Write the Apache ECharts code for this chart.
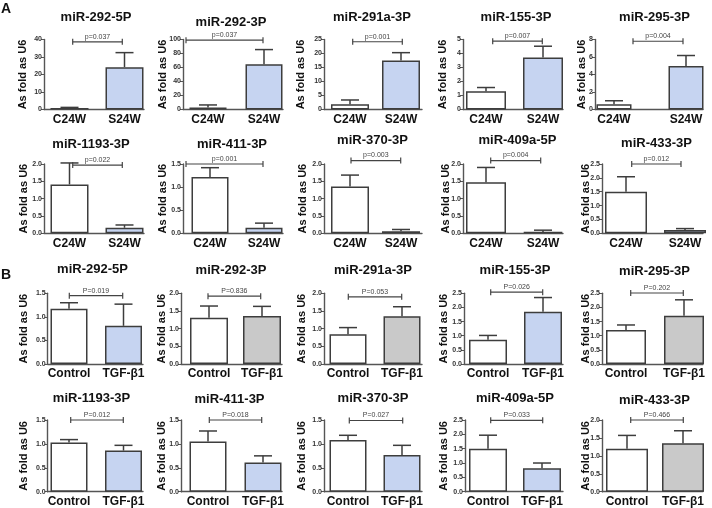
<!DOCTYPE html>
<html><head><meta charset="utf-8">
<script src="https://cdn.jsdelivr.net/npm/echarts@6/dist/echarts.min.js"></script>
<style>html,body{margin:0;padding:0;background:#fff}#c{width:712px;height:508px}</style>
</head><body><div id="c"></div>
<script>
// ---------------- DATA ----------------
const mirNames = ['miR-292-5P','miR-292-3P','miR-291a-3P','miR-155-3P','miR-295-3P',
                  'miR-1193-3P','miR-411-3P','miR-370-3P','miR-409a-5P','miR-433-3P'];
const groupsA = ['C24W','S24W'];
const groupsB = ['Control','TGF-\u03b21'];
const meanA = [[0.9,24.2],[3,64.6],[1.9,17.5],[1.3,3.72],[0.6,4.97],
               [1.41,0.16],[1.22,0.12],[1.35,0.06],[1.47,0.04],[1.5,0.12]];
const errA  = [[0.3,8.3],[3.5,21],[1.5,2.8],[0.27,0.8],[0.4,1.2],
               [0.62,0.08],[0.2,0.1],[0.33,0.05],[0.43,0.05],[0.54,0.05]];
const meanB = [[1.17,0.81],[1.31,1.36],[0.84,1.35],[0.86,1.85],[1.2,1.71],
               [1.03,0.86],[1.05,0.61],[1.08,0.77],[1.5,0.82],[1.2,1.35]];
const errB  = [[0.13,0.46],[0.33,0.27],[0.19,0.27],[0.15,0.5],[0.18,0.56],
               [0.06,0.11],[0.22,0.14],[0.1,0.2],[0.47,0.18],[0.37,0.35]];
const pA = ['p=0.037','p=0.037','p=0.001','p=0.007','p=0.004','p=0.022','p=0.001','p=0.003','p=0.004','p=0.012'];
const pB = ['P=0.019','P=0.836','P=0.053','P=0.026','P=0.202','P=0.012','P=0.018','P=0.027','P=0.033','P=0.466'];
const yMaxA = [40,100,25,5,8,2,1.5,2,2,2.5];
const yStepA = [10,20,5,1,2,0.5,0.5,0.5,0.5,0.5];
const yMaxB = [1.5,2,2,2.5,2.5,1.5,1.5,1.5,2.5,2];
const yStepB = [0.5,0.5,0.5,0.5,0.5,0.5,0.5,0.5,0.5,0.5];
const yAxisName = 'As fold as U6';

// ---------------- LAYOUT ----------------
// bracket heights (in axis units)
const bracketA = [38.7,99,24.2,4.88,7.8,1.97,1.5,2.1,2.1,2.5];
const bracketB = [1.45,1.92,1.9,2.54,2.51,1.5,1.5,1.49,2.49,2.0];
// per panel: [axisX, xEnd, center1, center2, barWidth, bracket1, bracket2, nameCenterX]
const panelX = [
  [44,144,69.5,124.5,38,72.7,122.3,22],[183,283,208,264,37,186,263,162.5],
  [324,422,350,401,38,352.7,402.3,300],[463,563,486,543,40,492.7,542.3,442],
  [595,703,614,686,35,633,683,581],
  [44,144,69.5,124.5,38,72.7,122.3,23],[183,283,210,264,37,186,263,162],
  [324,422,350,401,38,351,400.7,302],[463,563,486,543,40,490.7,540.7,445],
  [602,703,626,685,42,631.7,681,585.5],
  [47.7,143,69,123.5,37,69.3,122.7,23],[181,282,209,262,38,208,260.7,161],
  [324,422,348,402,37,348.3,401.7,301],[464,563,488,543,38,490.7,542.7,443],
  [602,703,626,684,40,630.7,683.3,585.5],
  [47.7,143,69,123.5,37,70.7,123.3,23],[181,282,208,263,37,209.3,261.7,161],
  [324,422,348,402,37,349.3,402.7,301],[465,563,488,542,38,490.7,542.7,443],
  [602,703,627,683,42,630.7,683.3,585.5]
];
// rows: [topTickY, zeroY]
const rowsY = [[39.5,109.5],[164,233.3],[293.3,364],[420,491.7]];
const titleX = [96,231,372,516,654.5, 91,232,372.5,517.5,656.5, 92.5,231,373,515,654.5, 91.5,229.5,373,515,654.5];
const titleY = [17,22,17,17,17, 144,144,140,140,143, 269,270,270,270,271, 398,399,398,398,400];

const FONT = '"Liberation Sans", Arial, sans-serif';
const BLUE = '#c6d4f1', GRAY = '#c9c9c9', EDGE = '#3d3d3d', AXIS = '#555';

const chart = echarts.init(document.getElementById('c'));
const grid = [], xAxis = [], yAxis = [], series = [], graphic = [];

for (let i = 0; i < 20; i++) {
  const isA = i < 10, k = i % 10, row = Math.floor(i / 5);
  const [ax, xe, c1, c2, bw, b1, b2, nx] = panelX[i];
  const [topY, zeroY] = rowsY[row];
  const mean = (isA ? meanA : meanB)[k], err = (isA ? errA : errB)[k];
  const pl = (isA ? pA : pB)[k];
  const sig = parseFloat(pl.split('=')[1]) < 0.05;
  const groups = isA ? groupsA : groupsB;
  const ymax = (isA ? yMaxA : yMaxB)[k], ystep = (isA ? yStepA : yStepB)[k];
  const bLevel = (isA ? bracketA : bracketB)[k];
  const x1 = c1 - ax, x2 = c2 - ax;

  grid.push({left: ax, top: topY, width: xe - ax, height: zeroY - topY, containLabel: false});
  xAxis.push({
    gridIndex: i, type: 'value', min: 0, max: xe - ax,
    axisLine: {show: true, onZero: false, lineStyle: {color: AXIS, width: 1.4}},
    axisTick: {show: false}, splitLine: {show: false},
    axisLabel: {customValues: [x1, x2], formatter: v => (Math.abs(v - x1) < 0.5 ? groups[0] : groups[1]),
      fontSize: 12, fontWeight: 'bold', color: '#111', margin: 4, fontFamily: FONT}
  });
  yAxis.push({
    gridIndex: i, type: 'value', min: 0, max: ymax, interval: ystep,
    axisLine: {show: true, lineStyle: {color: AXIS, width: 1.4}},
    axisTick: {show: true, length: 3, lineStyle: {color: AXIS, width: 1}},
    splitLine: {show: false},
    axisLabel: {fontSize: 7, color: '#333', margin: 2, fontFamily: FONT, fontWeight: 'bold',
      formatter: v => (ystep < 1 ? v.toFixed(1) : String(v))},
    name: yAxisName, nameLocation: 'middle', nameRotate: 90, nameGap: ax - nx - 6,
    nameMoveOverlap: false,
    nameTextStyle: {fontSize: 11, fontWeight: 'bold', color: '#111', fontFamily: FONT}
  });
  series.push({
    type: 'bar', xAxisIndex: i, yAxisIndex: i, barWidth: bw, z: 2,
    itemStyle: {borderColor: EDGE, borderWidth: 1.5},
    data: [
      {value: [x1, mean[0]], itemStyle: {color: '#fff'}},
      {value: [x2, mean[1]], itemStyle: {color: sig ? BLUE : GRAY}}
    ]
  });
  series.push({
    type: 'custom', xAxisIndex: i, yAxisIndex: i, z: 3,
    data: [[x1, mean[0], err[0]], [x2, mean[1], err[1]]],
    renderItem: (params, api) => {
      const x = api.value(0), m = api.value(1), e = api.value(2);
      const base = api.coord([x, m]), top = api.coord([x, m + e]);
      const half = 9;
      return {type: 'group', children: [
        {type: 'line', shape: {x1: base[0], y1: base[1], x2: top[0], y2: top[1]}, style: {stroke: EDGE, lineWidth: 1.5}},
        {type: 'line', shape: {x1: top[0] - half, y1: top[1], x2: top[0] + half, y2: top[1]}, style: {stroke: EDGE, lineWidth: 1.5}}
      ]};
    }
  });
  series.push({
    type: 'custom', xAxisIndex: i, yAxisIndex: i, z: 4,
    data: [[b1 - ax, b2 - ax, bLevel]],
    renderItem: (params, api) => {
      const p1 = api.coord([api.value(0), api.value(2)]);
      const p2 = api.coord([api.value(1), api.value(2)]);
      const cap = 3;
      return {type: 'group', children: [
        {type: 'line', shape: {x1: p1[0], y1: p1[1], x2: p2[0], y2: p2[1]}, style: {stroke: '#444', lineWidth: 1.2}},
        {type: 'line', shape: {x1: p1[0], y1: p1[1] - cap, x2: p1[0], y2: p1[1] + cap}, style: {stroke: '#444', lineWidth: 1.2}},
        {type: 'line', shape: {x1: p2[0], y1: p2[1] - cap, x2: p2[0], y2: p2[1] + cap}, style: {stroke: '#444', lineWidth: 1.2}},
        {type: 'text', x: (p1[0] + p2[0]) / 2, y: p1[1] - 1.5,
         style: {text: pl, fontSize: 7, fill: '#444', fontFamily: FONT, align: 'center', verticalAlign: 'bottom'}}
      ]};
    }
  });
  graphic.push({type: 'text', x: titleX[i], y: titleY[i],
    style: {text: mirNames[k], font: 'bold 13px ' + FONT, fill: '#111', align: 'center', verticalAlign: 'middle'}});
}
graphic.push({type: 'text', x: 1, y: 9, style: {text: 'A', font: 'bold 14px ' + FONT, fill: '#111', verticalAlign: 'middle'}});
graphic.push({type: 'text', x: 1, y: 275, style: {text: 'B', font: 'bold 14px ' + FONT, fill: '#111', verticalAlign: 'middle'}});

chart.setOption({animation: false, grid, xAxis, yAxis, series, graphic});
</script></body></html>
